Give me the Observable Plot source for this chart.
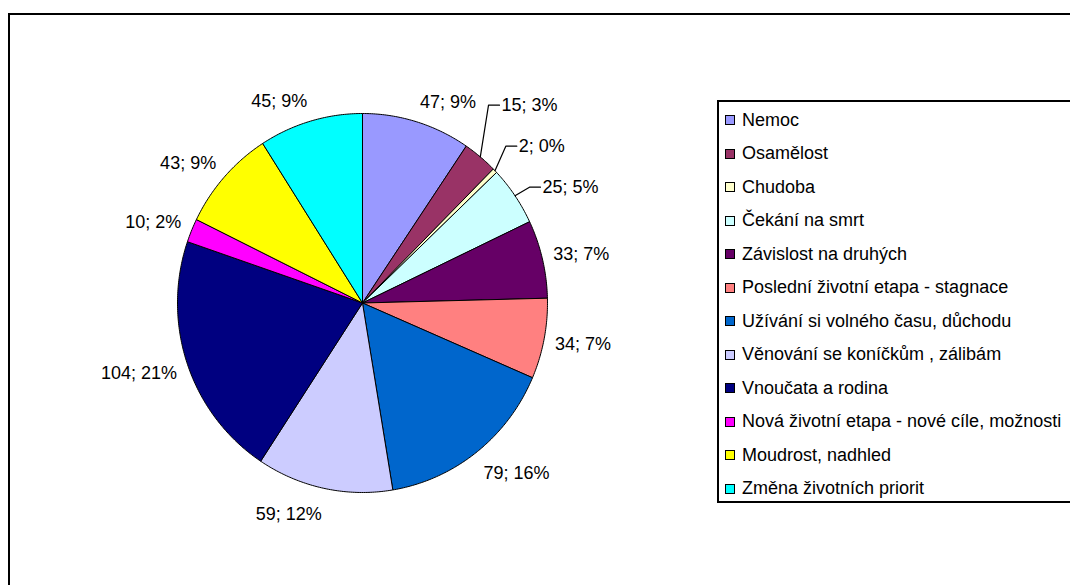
<!DOCTYPE html>
<html>
<head>
<meta charset="utf-8">
<script src="https://cdn.jsdelivr.net/npm/d3@7"></script>
<script src="https://cdn.jsdelivr.net/npm/@observablehq/plot@0.6"></script>
<style>
  html, body { margin: 0; padding: 0; background: #fff; overflow: hidden; }
  #wrap { position: relative; width: 1070px; height: 585px; overflow: hidden; font-family: "Liberation Sans", Arial, sans-serif; }
  #frame { position: absolute; left: 8px; top: 13px; width: 1200px; height: 700px; border: 2px solid #000; box-sizing: border-box; }
  #chart { position: absolute; left: 0; top: 0; }
  #legend { position: absolute; left: 717px; top: 100px; width: 400px; height: 403px; border: 2px solid #000; box-sizing: border-box; background: #fff; }
  .item { position: absolute; left: 6px; height: 20px; display: flex; align-items: center; font-size: 18px; color: #000; white-space: nowrap; }
  .sw { width: 8px; height: 8px; border: 1.5px solid #000; margin-right: 7px; flex: none; }
</style>
</head>
<body>
<div id="wrap">
  <div id="frame"></div>
  <div id="chart"></div>
  <div id="legend"></div>
</div>
<script>
const names = [
  "Nemoc",
  "Osamělost",
  "Chudoba",
  "Čekání na smrt",
  "Závislost na druhých",
  "Poslední životní etapa - stagnace",
  "Užívání si volného času, důchodu",
  "Věnování se koníčkům , zálibám",
  "Vnoučata a rodina",
  "Nová životní etapa - nové cíle, možnosti",
  "Moudrost, nadhled",
  "Změna životních priorit"
];
const values = [47, 15, 2, 25, 33, 34, 79, 59, 104, 10, 43, 45];
const colors = ["#9999FF", "#993366", "#FFFFCC", "#CCFFFF", "#660066", "#FF8080",
                "#0066CC", "#CCCCFF", "#000080", "#FF00FF", "#FFFF00", "#00FFFF"];

// layout of the pie (pixels)
const cx = 362, cy = 302.5, rx = 185, ry = 189.5;

const total = d3.sum(values);
const slices = [];
let acc = 0;
values.forEach((v, i) => {
  const a0 = acc / total * 2 * Math.PI;
  acc += v;
  const a1 = acc / total * 2 * Math.PI;
  const mid = (a0 + a1) / 2;
  slices.push({i, name: names[i], value: v, share: v / total, a0, a1, mid,
               s: Math.sin(mid), c: Math.cos(mid),
               text: `${v}; ${Math.round(v / total * 100)}%`});
});

// polygon points for each slice (unit coordinates, angle clockwise from top)
const piePts = [];
for (const sl of slices) {
  piePts.push({name: sl.name, x: 0, y: 0});
  const n = Math.max(2, Math.ceil((sl.a1 - sl.a0) / 0.01));
  for (let k = 0; k <= n; k++) {
    const a = sl.a0 + (sl.a1 - sl.a0) * k / n;
    piePts.push({name: sl.name, x: Math.sin(a), y: Math.cos(a)});
  }
  piePts.push({name: sl.name, x: 0, y: 0});
}

// which labels need leader lines: runs of adjacent small slices
const small = slices.map(s => s.share < 0.06);
const N = slices.length;
slices.forEach((s, i) => {
  s.leader = small[i] && (small[(i + 1) % N] || small[(i - 1 + N) % N]);
});

// default labels
const labels = [];
for (const s of slices) {
  if (s.leader) continue;
  const k = 1.06;
  const dyPx = s.c > 0 ? s.c * 9 : s.c * 15;
  labels.push({text: s.text, x: k * s.s, y: k * s.c + dyPx / ry,
               anchor: s.s > 0.1 ? "start" : s.s < -0.1 ? "end" : "middle"});
}

// leader labels with vertical separation (pixel gap)
const gap = 41;
const lead = slices.filter(s => s.leader).map(s => ({
  s, xPx: cx + 1.18 * rx * s.s, yPx: cy - 1.22 * ry * s.c
}));
lead.sort((a, b) => a.yPx - b.yPx);
for (let iter = 0; iter < 50; iter++) {
  // build clusters
  let clusters = [[lead[0]]];
  for (let j = 1; j < lead.length; j++) {
    const cl = clusters[clusters.length - 1];
    const last = cl[cl.length - 1];
    if (lead[j].yPx - last.yPx < gap - 0.01) cl.push(lead[j]); else clusters.push([lead[j]]);
  }
  let changed = false;
  for (const cl of clusters) {
    if (cl.length < 2) continue;
    const mean = d3.mean(cl, d => d.yPx);
    cl.forEach((d, j) => {
      const ny = mean + (j - (cl.length - 1) / 2) * gap;
      if (Math.abs(ny - d.yPx) > 0.01) changed = true;
      d.yPx = ny;
    });
  }
  if (!changed) break;
}
const leaderPts = [];
for (const d of lead) {
  const xu = (d.xPx - cx) / rx, yu = (cy - d.yPx) / ry;
  labels.push({text: d.s.text, x: xu, y: yu, anchor: "start"});
  leaderPts.push({name: d.s.name, x: d.s.s, y: d.s.c});
  leaderPts.push({name: d.s.name, x: (d.xPx - 13 - cx) / rx, y: yu});
  leaderPts.push({name: d.s.name, x: (d.xPx - 2 - cx) / rx, y: yu});
}

const font = "Liberation Sans, Arial, sans-serif";
const textMark = anchor => Plot.text(labels.filter(l => l.anchor === anchor), {
  x: "x", y: "y", text: "text", textAnchor: anchor, lineAnchor: "middle",
  fontSize: 18, fill: "#000", fontFamily: font
});

const chart = Plot.plot({
  width: 1070,
  height: 585,
  margin: 0,
  style: {background: "transparent", overflow: "visible", fontFamily: font},
  x: {domain: [-1, 1], range: [cx - rx, cx + rx], axis: null},
  y: {domain: [-1, 1], range: [cy + ry, cy - ry], axis: null},
  color: {domain: names, range: colors},
  marks: [
    Plot.line(piePts, {x: "x", y: "y", z: "name", fill: "name", stroke: "#000",
                       strokeWidth: 1, strokeLinejoin: "miter"}),
    Plot.line(leaderPts, {x: "x", y: "y", z: "name", stroke: "#000", strokeWidth: 1.2}),
    textMark("start"),
    textMark("end"),
    textMark("middle")
  ]
});
document.getElementById("chart").appendChild(chart);

// legend
const legend = document.getElementById("legend");
names.forEach((n, i) => {
  const row = document.createElement("div");
  row.className = "item";
  row.style.top = (120 + i * 33.5 - 102 - 10) + "px";
  const sw = document.createElement("span");
  sw.className = "sw";
  sw.style.background = colors[i];
  const t = document.createElement("span");
  t.textContent = n;
  row.appendChild(sw);
  row.appendChild(t);
  legend.appendChild(row);
});
</script>
</body>
</html>
